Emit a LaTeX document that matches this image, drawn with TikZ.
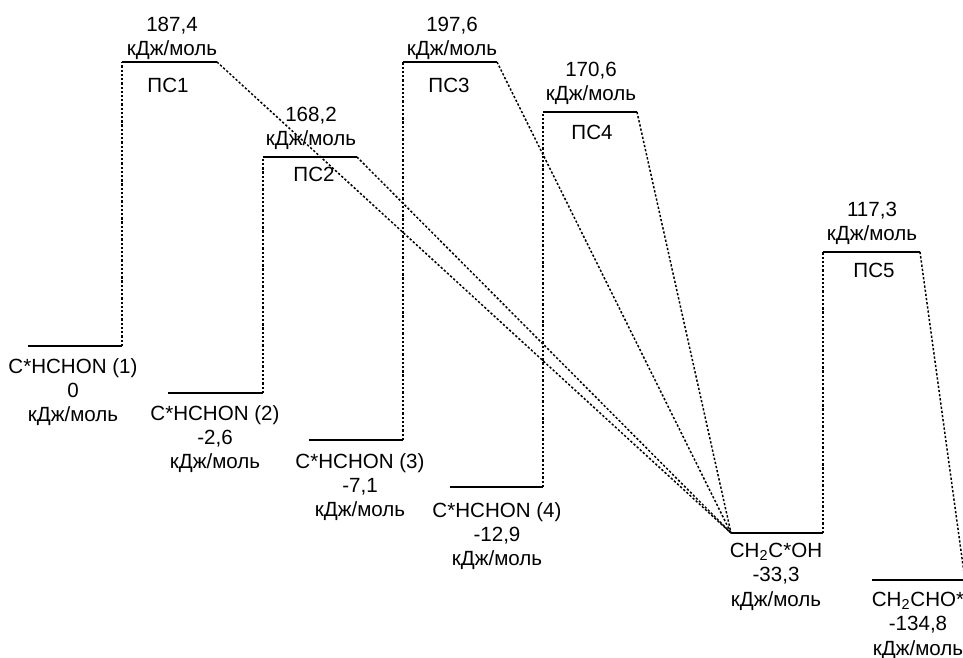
\documentclass[tikz,border=0pt]{standalone}
\usepackage{fontspec}
\setmainfont{Liberation Sans}
\usepackage{tikz}

\begin{document}
\begin{tikzpicture}[x=0.02cm,y=-0.02cm,
  lvl/.style={line width=0.9pt},
  jump/.style={line width=0.85pt,dash pattern=on 1.3pt off 1.1pt},
  lab/.style={font=\fontsize{11.7}{13.8}\selectfont,align=center,inner sep=0pt,anchor=north}]
\useasboundingbox (0,0) rectangle (963,657);
\coordinate (s1a) at (28,346);  \coordinate (s1b) at (122,346);
\coordinate (s2a) at (168,393); \coordinate (s2b) at (263,393);
\coordinate (s3a) at (309,440); \coordinate (s3b) at (403,440);
\coordinate (s4a) at (450,487); \coordinate (s4b) at (543,487);
\coordinate (s5a) at (731,533); \coordinate (s5b) at (823,533);
\coordinate (s6a) at (872,580); \coordinate (s6b) at (965,580);
\coordinate (t1a) at (122,62);  \coordinate (t1b) at (217,62);
\coordinate (t2a) at (263,157); \coordinate (t2b) at (357,157);
\coordinate (t3a) at (403,62);  \coordinate (t3b) at (497,62);
\coordinate (t4a) at (543,112); \coordinate (t4b) at (637,112);
\coordinate (t5a) at (823,252); \coordinate (t5b) at (920,252);
\foreach \p in {s1,s2,s3,s4,s5,s6,t1,t2,t3,t4,t5}
  \draw[lvl] (\p a) -- (\p b);
\foreach \i in {1,...,5}
  \draw[jump] (s\i b) -- (t\i a);
\foreach \i in {1,...,4}
  \draw[jump] (t\i b) -- (s5a);
\draw[jump] (t5b) -- (s6b);
\node[lab] (e1) at (73,358) {C*HCHON (1)\\0\\кДж/моль};
\node[lab] (e2) at (215,405) {C*HCHON (2)\\-2,6\\кДж/моль};
\node[lab] (e3) at (360,453) {C*HCHON (3)\\-7,1\\кДж/моль};
\node[lab] (e4) at (497,502) {C*HCHON (4)\\-12,9\\кДж/моль};
\node[lab] (e5) at (776,543) {CH\textsubscript{2}C*OH\\-33,3\\кДж/моль};
\node[lab] (e6) at (918,592) {CH\textsubscript{2}CHO*\\-134,8\\кДж/моль};
\node[lab] (v1) at (172,17) {187,4\\кДж/моль};
\node[lab] (v2) at (311,107) {168,2\\кДж/моль};
\node[lab] (v3) at (452,17) {197,6\\кДж/моль};
\node[lab] (v4) at (591,62) {170,6\\кДж/моль};
\node[lab] (v5) at (872,202) {117,3\\кДж/моль};
\node[lab] (n1) at (168,78) {ПС1};
\node[lab] (n2) at (314,167) {ПС2};
\node[lab] (n3) at (449,78) {ПС3};
\node[lab] (n4) at (592,125) {ПС4};
\node[lab] (n5) at (874,263) {ПС5};
\end{tikzpicture}
\end{document}
